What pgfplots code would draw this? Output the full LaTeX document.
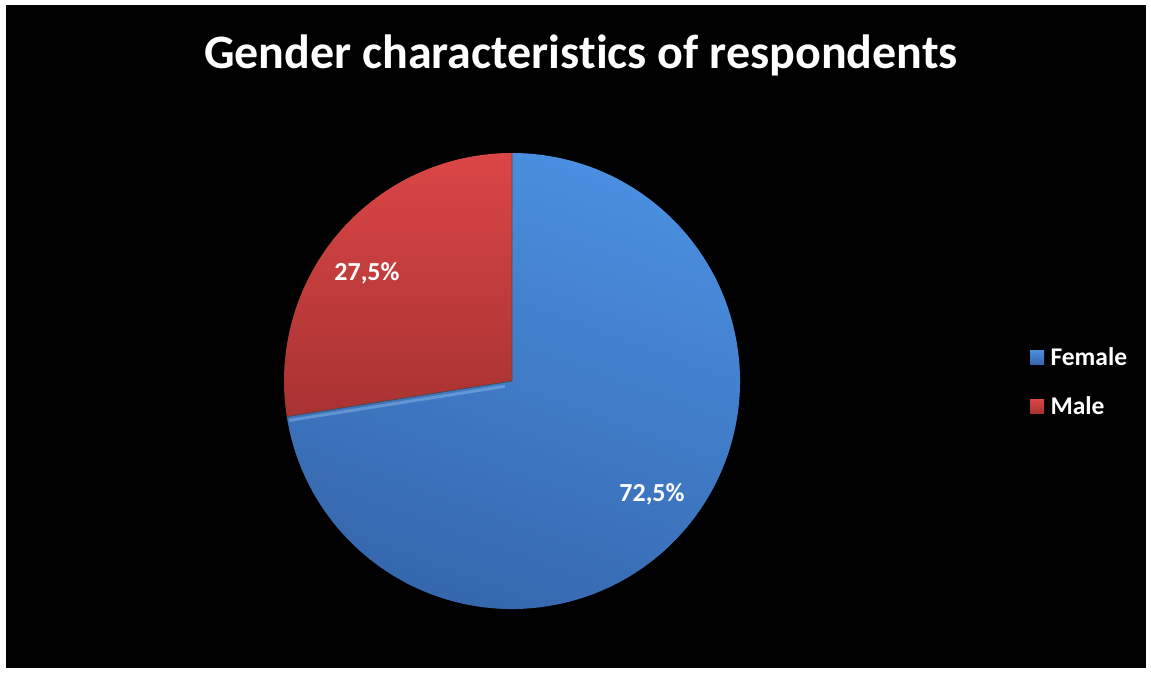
\documentclass[border=0pt]{standalone}
\usepackage{pgfplots}
\pgfplotsset{compat=1.18}
\usepackage{pgfplotstable}
\usepackage{fontspec}
\setmainfont[Ligatures=NoCommon]{Carlito}
\definecolor{bluetop}{HTML}{4A8FE0}
\definecolor{bluebot}{HTML}{3566AC}
\definecolor{redtop}{HTML}{DB4646}
\definecolor{redbot}{HTML}{A83232}
\pgfplotstableread{
label share
Male 27.5
Female 72.5
}\piedata
\pgfplotstablegetelem{0}{share}\of\piedata \edef\maleshare{\pgfplotsretval}
\pgfplotstablegetelem{1}{share}\of\piedata \edef\femaleshare{\pgfplotsretval}
\begin{document}
\begin{tikzpicture}[x=1pt,y=1pt]
\fill[white] (0,0) rectangle (1151,673);
\fill[black] (6,5) rectangle (1146,668);
\node[text=white,font=\fontsize{48}{56}\selectfont\bfseries] at (581,618) {Gender characteristics of respondents};
\begin{axis}[at={(284pt,64pt)},anchor=south west,scale only axis,width=456pt,height=456pt,
  xmin=-1,xmax=1,ymin=-1,ymax=1,hide axis,clip=false]
\pgfmathsetmacro{\aA}{90}
\pgfmathsetmacro{\aB}{90+3.6*\maleshare}
\pgfmathsetmacro{\aC}{\aB+3.6*\femaleshare}
% Female slice
\shade[top color=bluetop,bottom color=bluebot,shading angle=-20]
  (axis cs:0,0) -- (axis cs:{cos(\aB)},{sin(\aB)}) arc[start angle=\aB,end angle=\aC,radius=228pt] -- cycle;
\draw[line width=3pt,color=bluetop!60!white,opacity=0.45]
  (axis cs:{0.03*cos(\aB)},{0.03*sin(\aB)-0.018}) -- (axis cs:{0.99*cos(\aB)},{0.99*sin(\aB)-0.018});
% Male slice
\shade[top color=redtop,bottom color=redbot]
  (axis cs:0,0) -- (axis cs:{cos(\aA)},{sin(\aA)}) arc[start angle=\aA,end angle=\aB,radius=228pt] -- cycle;
\draw[black!70,line width=0.8pt] (axis cs:{cos(\aB)},{sin(\aB)}) -- (axis cs:0,0) -- (axis cs:0,1);
\node[text=white,font=\fontsize{26}{30}\selectfont\bfseries] at (axis cs:-0.636,0.474) {27,5\%};
\node[text=white,font=\fontsize{26}{30}\selectfont\bfseries] at (axis cs:0.614,-0.496) {72,5\%};
\end{axis}
% legend
\shade[top color=bluetop,bottom color=bluebot] (1030,309) rectangle (1044,323);
\node[anchor=west,text=white,font=\fontsize{25.5}{30}\selectfont\bfseries] at (1047,316) {Female};
\shade[top color=redtop,bottom color=redbot] (1030,260) rectangle (1044,274);
\node[anchor=west,text=white,font=\fontsize{25.5}{30}\selectfont\bfseries] at (1047,267) {Male};
\end{tikzpicture}
\end{document}
